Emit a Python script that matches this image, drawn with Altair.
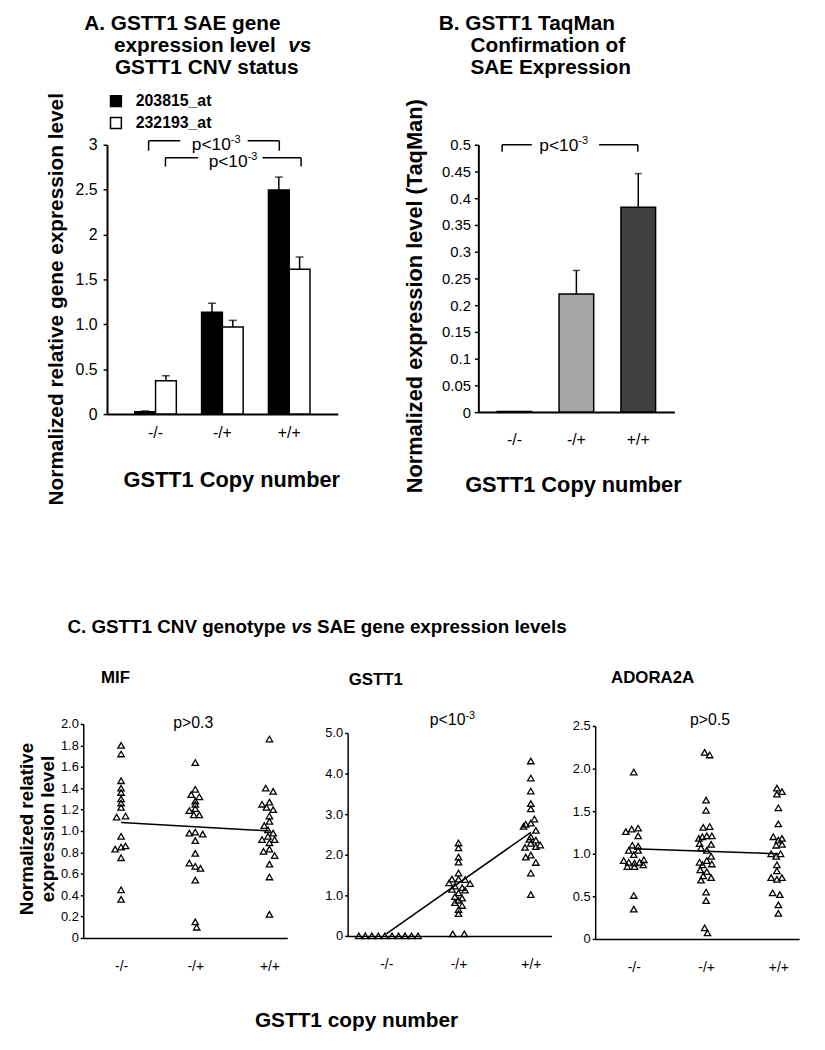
import altair as alt
import pandas as pd

FONT = "Liberation Sans"
W, H = 817, 1034

cats = ["-/-", "-/+", "+/+"]

# ---------------- Panel A ----------------
a_series = ["203815_at", "232193_at"]
a_mean_203815 = [0.025, 1.135, 2.495]
a_err_203815 = [0.010, 0.100, 0.145]
a_mean_232193 = [0.372, 0.971, 1.614]
a_err_232193 = [0.055, 0.073, 0.136]
a_yticks = [0, 0.5, 1, 1.5, 2, 2.5, 3]
a_ylabels = ["0", "0.5", "1.0", "1.5", "2", "2.5", "3"]

# ---------------- Panel B ----------------
b_mean = [0.001, 0.221, 0.383]
b_err = [0.0, 0.044, 0.063]
b_fill = ["#ffffff", "#a6a6a6", "#404040"]
b_yticks = [0, 0.05, 0.1, 0.15, 0.2, 0.25, 0.3, 0.35, 0.4, 0.45, 0.5]

# ---------------- Panel C ----------------
mif_neg = [1.80, 1.72, 1.47, 1.40, 1.36, 1.30, 1.26, 1.22, 1.13, 1.14, 0.95, 0.83, 0.85, 0.86, 0.75, 0.45, 0.36]
mif_neg_j = [0, 0, 0, 0, 0, 0, 0, 0, -0.06, 0.06, 0, -0.08, 0, 0.06, 0, 0, 0]
mif_het = [1.64, 1.39, 1.34, 1.32, 1.28, 1.25, 1.19, 1.21, 1.15, 1.15, 0.98, 0.99, 0.97, 0.91, 0.79, 0.70, 0.67, 0.65, 0.54, 0.15, 0.10]
mif_het_j = [0, 0, -0.055, 0.055, 0, 0, -0.08, 0, -0.02, 0.055, -0.08, 0, 0.1, 0, 0, -0.08, 0, 0.07, 0, 0, 0.02]
mif_pos = [1.86, 1.40, 1.37, 1.27, 1.25, 1.22, 1.20, 1.14, 1.09, 1.05, 1.01, 0.98, 0.95, 0.92, 0.92, 0.89, 0.81, 0.83, 0.77, 0.69, 0.57, 0.22]
mif_pos_j = [0, -0.05, 0.05, 0, -0.1, -0.04, 0.05, 0, 0, -0.07, -0.02, 0.05, -0.02, -0.1, 0.07, 0, -0.08, 0, 0.07, 0, 0, 0]
mif_fit = [1.08, 1.00]
mif_yticks = [0, 0.2, 0.4, 0.6, 0.8, 1.0, 1.2, 1.4, 1.6, 1.8, 2.0]

gst_neg = [0, 0, 0, 0, 0, 0, 0, 0, 0, 0]
gst_neg_j = [-0.38, -0.29, -0.2, -0.11, -0.02, 0.08, 0.17, 0.26, 0.35, 0.44]
gst_het = [2.29, 2.17, 1.94, 1.82, 1.55, 1.40, 1.40, 1.39, 1.31, 1.29, 1.23, 1.19, 1.15, 1.13, 1.06, 0.97, 0.93, 0.88, 0.82, 0.75, 0.65, 0.55, 0.05, 0.05]
gst_het_j = [0, 0, 0, 0, 0, -0.09, 0, 0.09, -0.13, 0.16, -0.05, 0.05, -0.09, 0.09, 0, -0.05, 0.05, 0, -0.05, 0.05, 0, 0, -0.08, 0.08]
gst_pos = [4.31, 3.89, 3.57, 3.26, 3.13, 2.88, 2.78, 2.75, 2.70, 2.60, 2.44, 2.38, 2.36, 2.28, 2.24, 2.18, 2.20, 1.99, 1.94, 1.81, 1.55, 1.02]
gst_pos_j = [0, 0, 0, 0, 0, 0.05, 0, -0.07, -0.1, 0.07, 0, -0.02, 0.07, 0, 0.13, -0.08, 0.07, 0, -0.07, 0.07, 0, 0]
gst_fit = [0.05, 2.55]
gst_yticks = [0, 1, 2, 3, 4, 5]

ado_neg = [1.96, 1.26, 1.29, 1.30, 1.21, 1.10, 1.09, 1.04, 1.04, 0.99, 0.92, 0.90, 0.89, 0.90, 0.93, 0.85, 0.85, 0.87, 0.51, 0.35]
ado_neg_j = [0, -0.11, -0.03, 0.06, 0.06, -0.02, 0.06, -0.07, 0.06, 0, -0.14, -0.07, 0.01, 0.08, 0.14, -0.09, 0.01, 0.13, 0, 0]
ado_het = [2.19, 2.16, 1.63, 1.51, 1.31, 1.32, 1.20, 1.21, 1.21, 1.18, 1.12, 1.11, 1.07, 1.04, 0.97, 0.92, 0.90, 0.88, 0.87, 0.81, 0.79, 0.74, 0.72, 0.69, 0.55, 0.45, 0.13, 0.07]
ado_het_j = [-0.02, 0.05, 0, 0, -0.04, 0.05, -0.05, 0.01, 0.08, -0.1, -0.09, 0.07, -0.07, 0.01, 0.07, 0.01, -0.09, 0.08, -0.05, -0.08, 0.01, -0.04, 0.07, -0.07, 0, 0, -0.02, 0.02]
ado_pos = [1.77, 1.73, 1.70, 1.54, 1.35, 1.20, 1.18, 1.16, 1.10, 1.11, 1.00, 1.00, 0.97, 0.87, 0.80, 0.72, 0.70, 0.72, 0.54, 0.52, 0.40, 0.30]
ado_pos_j = [-0.02, 0.05, -0.02, 0, 0, -0.07, 0.05, 0, -0.03, 0.05, -0.1, 0.03, -0.03, -0.02, -0.02, -0.1, -0.02, 0.05, -0.08, 0.02, 0, 0]
ado_fit = [1.06, 1.00]
ado_yticks = [0, 0.5, 1.0, 1.5, 2.0, 2.5]

one = pd.DataFrame({"k": [0]})


def label(text, x, y, size, weight="normal", style="normal", align="left",
          baseline="alphabetic", angle=0):
    return alt.Chart(one).mark_text(
        text=text, align=align, baseline=baseline, font=FONT, fontSize=size,
        fontWeight=weight, fontStyle=style, angle=angle, color="black"
    ).encode(x=alt.value(x), y=alt.value(y))


def seg(x1, y1, x2, y2, w=1.5):
    return alt.Chart(one).mark_rule(color="black", strokeWidth=w).encode(
        x=alt.value(x1), x2=alt.value(x2), y=alt.value(y1), y2=alt.value(y2))


def label_expr(ticks, labels):
    t = ",".join(repr(v) for v in ticks)
    l = ",".join("'" + s + "'" for s in labels)
    return "[" + l + "][indexof([" + t + "], datum.value)]"


# ---------- Panel A layers ----------
dfA = pd.DataFrame({
    "cat": cats * 2,
    "series": [a_series[0]] * 3 + [a_series[1]] * 3,
    "mean": a_mean_203815 + a_mean_232193,
    "err": a_err_203815 + a_err_232193,
})
dfA["hi"] = dfA["mean"] + dfA["err"]

xA = alt.X("cat:N", sort=cats, title=None,
           scale=alt.Scale(domain=cats, range=[100, 333], paddingInner=0.378, paddingOuter=0.415),
           axis=alt.Axis(orient="bottom", offset=405 - H, ticks=False, labelAngle=0,
                         labelFontSize=16, labelPadding=11, domainWidth=2))
xoA = alt.XOffset("series:N", sort=a_series,
                  scale=alt.Scale(domain=a_series, paddingInner=0, paddingOuter=0))


def yA(field):
    return alt.Y(field, title=None,
                 scale=alt.Scale(domain=[0, 3], range=[405, 133], nice=False),
                 axis=alt.Axis(orient="left", offset=-100, values=a_yticks,
                               labelExpr=label_expr(a_yticks, a_ylabels), tickSize=4,
                               labelPadding=6, labelFontSize=16, domainWidth=2))


barsA = alt.Chart(dfA).mark_bar(stroke="black", strokeWidth=1.5).encode(
    x=xA, xOffset=xoA, y=yA("mean:Q"),
    fill=alt.Fill("series:N", sort=a_series,
                  scale=alt.Scale(domain=a_series, range=["black", "white"]),
                  legend=alt.Legend(orient="none", legendX=101, legendY=81, title=None,
                                    symbolType="square", symbolSize=120,
                                    symbolStrokeColor="black", symbolStrokeWidth=1.5,
                                    labelFont=FONT, labelFontSize=16, labelFontWeight="bold",
                                    labelColor="black", rowPadding=4, labelOffset=12, padding=0)))
errA = alt.Chart(dfA).mark_rule(color="black", strokeWidth=1.5).encode(
    x=xA, xOffset=xoA, y=yA("mean:Q"), y2="hi:Q")
capA = alt.Chart(dfA).mark_tick(color="black", thickness=1.5, size=8).encode(
    x=xA, xOffset=xoA, y=yA("hi:Q"))
panelA = alt.layer(errA, barsA, capA)

# ---------- Panel B layers ----------
dfB = pd.DataFrame({"cat": cats, "mean": b_mean, "err": b_err, "fill": b_fill})
dfB["hi"] = dfB["mean"] + dfB["err"]

xB = alt.X("cat:N", sort=cats, title=None,
           scale=alt.Scale(domain=cats, range=[475, 673], paddingInner=0.44, paddingOuter=0.304),
           axis=alt.Axis(orient="bottom", offset=403 - H, ticks=False, labelAngle=0,
                         labelFontSize=16, labelPadding=20, domainWidth=2))


def yB(field):
    return alt.Y(field, title=None,
                 scale=alt.Scale(domain=[0, 0.5], range=[403, 133], nice=False),
                 axis=alt.Axis(orient="left", offset=-475, values=b_yticks, format=".2~f",
                               tickSize=4, labelPadding=4, labelFontSize=15, domainWidth=2))


barsB = alt.Chart(dfB).mark_bar(stroke="black", strokeWidth=1.5).encode(
    x=xB, y=yB("mean:Q"), fill=alt.Fill("fill:N", scale=None))
errB = alt.Chart(dfB).transform_filter("datum.err > 0").mark_rule(
    color="black", strokeWidth=1.5).encode(x=xB, y=yB("mean:Q"), y2="hi:Q")
capB = alt.Chart(dfB).transform_filter("datum.err > 0").mark_tick(
    color="black", thickness=1.5, size=7).encode(x=xB, y=yB("hi:Q"))
panelB = alt.layer(errB, barsB, capB)


# ---------- Panel C layers ----------
def scatter_panel(neg, negj, het, hetj, pos, posj, fit, xdom, xrange, ydom, yrange,
                  yticks, ylabels):
    rows = []
    for gi, (vals, js) in enumerate([(neg, negj), (het, hetj), (pos, posj)], start=1):
        for v, j in zip(vals, js):
            rows.append({"x": gi + j, "v": v})
    df = pd.DataFrame(rows)
    dfit = pd.DataFrame({"x": [1, 3], "v": fit})
    xenc = alt.X("x:Q", title=None,
                 scale=alt.Scale(domain=xdom, range=xrange, nice=False, zero=False),
                 axis=alt.Axis(orient="bottom", offset=yrange[0] - H, values=[1, 2, 3],
                               labelExpr=label_expr([1, 2, 3], cats), ticks=False,
                               labelFontSize=14, labelPadding=22, domainWidth=1.5))
    yenc = alt.Y("v:Q", title=None,
                 scale=alt.Scale(domain=ydom, range=yrange, nice=False, zero=False),
                 axis=alt.Axis(orient="left", offset=-xrange[0], values=yticks,
                               labelExpr=label_expr(yticks, ylabels), tickSize=3,
                               labelPadding=2, labelFontSize=13, domainWidth=1.5))
    pts = alt.Chart(df).mark_point(shape="triangle-up", filled=False, color="black",
                                   strokeWidth=1.3, size=42, opacity=1).encode(x=xenc, y=yenc)
    line = alt.Chart(dfit).mark_line(color="black", strokeWidth=1.5).encode(x=xenc, y=yenc)
    return alt.layer(line, pts)


panelMIF = scatter_panel(mif_neg, mif_neg_j, mif_het, mif_het_j, mif_pos, mif_pos_j, mif_fit,
                         [0.49, 3.24], [76, 282], [0, 2], [934, 718], mif_yticks,
                         ["0", "0.2", "0.4", "0.6", "0.8", "1.0", "1.2", "1.4", "1.6", "1.8", "2.0"])
panelGST = scatter_panel(gst_neg, gst_neg_j, gst_het, gst_het_j, gst_pos, gst_pos_j, gst_fit,
                         [0.466, 3.288], [343, 549], [0, 5], [932, 727], gst_yticks,
                         ["0", "1.0", "2.0", "3.0", "4.0", "5.0"])
panelADO = scatter_panel(ado_neg, ado_neg_j, ado_het, ado_het_j, ado_pos, ado_pos_j, ado_fit,
                         [0.466, 3.288], [593, 799], [0, 2.5], [935, 720], ado_yticks,
                         ["0", "0.5", "1.0", "1.5", "2.0", "2.5"])

# ---------- Annotations ----------
texts = [
    # Panel A title
    label("A. GSTT1 SAE gene", 77, 17, 21, "bold"),
    label("expression  level", 107, 39, 21, "bold"),
    label("vs", 283, 39, 21, "bold", "italic"),
    label("GSTT1 CNV status", 108, 62, 21, "bold"),
    label("Normalized relative gene expression level", 50, 289, 21, "bold",
          align="center", baseline="middle", angle=270),
    label("GSTT1 Copy number", 226, 479, 22, "bold", align="center"),
    # Panel A brackets
    seg(142, 129, 174, 129), seg(242, 129, 274, 129),
    seg(142, 129, 142, 139), seg(274, 129, 274, 139),
    label("p<10", 225, 138, 17.5, align="right"),
    label("-3", 225, 131, 11),
    seg(159, 146, 192, 146), seg(257, 146, 296, 146),
    seg(159, 146, 159, 155), seg(296, 146, 296, 155),
    label("p<10", 242, 155, 17.5, align="right"),
    label("-3", 242, 148, 11),
    # Panel B title
    label("B. GSTT1 TaqMan", 435, 17, 21, "bold"),
    label("Confirmation of", 467, 39, 21, "bold"),
    label("SAE Expression", 467, 62, 21, "bold"),
    label("Normalized expression level (TaqMan)", 411, 286, 22, "bold",
          align="center", baseline="middle", angle=270),
    label("GSTT1 Copy number", 571, 484, 22, "bold", align="center"),
    seg(499, 133, 529, 133), seg(597, 133, 636, 133),
    seg(499, 133, 499, 140), seg(636, 133, 636, 140),
    label("p<10", 576, 139, 17.5, align="right"),
    label("-3", 576, 132, 11),
    # Panel C
    label("C. GSTT1 CNV genotype", 60, 626, 19, "bold"),
    label("vs", 286, 626, 19, "bold", "italic"),
    label("SAE gene expression levels", 312, 626, 19, "bold"),
    label("MIF", 94, 677, 17, "bold"),
    label("GSTT1", 344, 679, 17, "bold"),
    label("ADORA2A", 609, 677, 17, "bold"),
    label("p>0.3", 187, 722, 16, align="center"),
    label("p<10", 462, 719, 16, align="right"),
    label("-3", 462, 713, 11),
    label("p>0.5", 709, 719, 16, align="center"),
    label("Normalized relative", 19, 824, 19, "bold", align="center", baseline="middle", angle=270),
    label("expression level", 40, 824, 19, "bold", align="center", baseline="middle", angle=270),
    label("GSTT1 copy number", 352, 1024, 21, "bold", align="center"),
]

chart = alt.layer(panelA, panelB, panelMIF, panelGST, panelADO, *texts).resolve_scale(
    x="independent", y="independent", fill="independent"
).properties(width=W, height=H, padding=0).configure_axis(
    grid=False, labelFont=FONT, labelColor="black", domainColor="black",
    tickColor="black", tickWidth=1.5
).configure_view(stroke=None)

chart.save("out.html", embed_options={"renderer": "svg", "actions": False})
